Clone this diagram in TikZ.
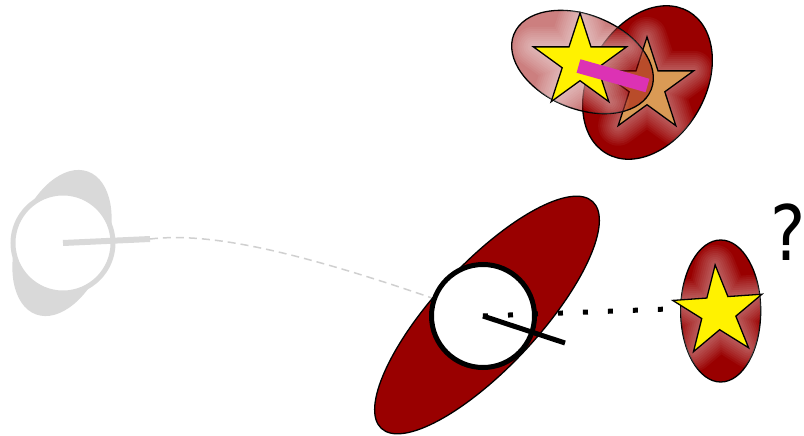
\documentclass[tikz,border=0pt]{standalone}
\usepackage{fontspec}
\setmainfont{DejaVu Sans}
\usetikzlibrary{shapes.geometric}
\definecolor{dred}{HTML}{990000}
\definecolor{ghost}{HTML}{D9D9D9}
\definecolor{dashgrey}{HTML}{D0D0D0}
\definecolor{starorange}{HTML}{DA9A55}
\definecolor{barmag}{HTML}{DC32B4}
\tikzset{
  pics/starp/.style={code={\path[pic actions] plot[samples at={0,...,9}] ({-90+36*\x}:{#1*(0.691+0.309*cos(180*\x))}) -- cycle;}},
  blob/.style={ellipse, draw=black, line width=1.3pt, inner sep=0pt, fill=dred},
  glow/.style={draw=white, line join=round},
  starline/.style={draw=black, line width=1.3pt, line join=miter},
}
\begin{document}
\begin{tikzpicture}[x=1pt,y=-1pt]
\useasboundingbox (0,0) rectangle (804,436);
% ghost on the left
\node[ellipse, fill=ghost, inner sep=0pt, minimum width=152pt, minimum height=90pt, rotate=70] (gblob) at (62,243) {};
\node[circle, draw=ghost, line width=5pt, fill=white, inner sep=0pt, minimum size=100pt] (gc) at (63,243) {};
\coordinate (gl) at (150,239);
\draw[ghost, line width=6pt] (gc.center) -- (gl);
% black circle centre
\coordinate (bcc) at (483,316);
\draw[dashgrey, line width=1.5pt, dash pattern=on 8pt off 5pt] (gl) .. controls (210,232) and (300,250) .. (bcc);
% big ellipse
\node[blob, minimum width=310pt, minimum height=104pt, rotate=47] (be) at (487,315) {};
\node[circle, draw=black, line width=5pt, fill=white, inner sep=0pt, minimum size=103pt] (bc) at (bcc) {};
\coordinate (dotend) at (668,309);
\draw[line width=5pt, dash pattern=on 5pt off 20pt] (bc.center) -- (dotend);
\coordinate (bl) at (565,343);
\draw[line width=5pt] (bc.center) -- (bl);
% right ellipse with star
\node[blob, minimum width=80pt, minimum height=142pt] (re) at (720.7,311) {};
\begin{scope}
  \clip (720.7,311) ellipse [x radius=40, y radius=71];
  \foreach \w in {40,36,...,4}
    \pic[glow, line width=\w pt, draw opacity=0.045, rotate=4] at (718.4,311.8) {starp=47};
\end{scope}
\pic[starline, fill=yellow, rotate=4] (rs) at (718.4,311.8) {starp=47};
\node[anchor=base west, inner sep=0pt, font=\fontsize{76.4}{80}\selectfont] (q) at (770.6,260.7) {\makebox[33pt][l]{\scalebox{0.87}[1]{?}}};
% top group
\node[blob, minimum width=164pt, minimum height=116pt, rotate=60] (te) at (647.5,82.5) {};
\begin{scope}
  \clip[rotate around={60:(647.5,82.5)}] (647.5,82.5) ellipse [x radius=82, y radius=58];
  \foreach \w in {40,36,...,4}
    \pic[glow, line width=\w pt, draw opacity=0.045] at (647,86) {starp=49};
\end{scope}
\pic[starline, fill=starorange] (os) at (647,86) {starp=49};
\node[blob, fill opacity=0.5, minimum width=148pt, minimum height=94pt, rotate=-22] (pe) at (582.5,62) {};
\begin{scope}
  \clip[rotate around={-22:(582.5,62)}] (582.5,62) ellipse [x radius=74, y radius=47];
  \foreach \w in {40,36,...,4}
    \pic[glow, line width=\w pt, draw opacity=0.055] at (580,62) {starp=49};
\end{scope}
\pic[starline, fill=yellow] (ys) at (580,62) {starp=49};
\coordinate (b1) at (578.5,66);
\coordinate (b2) at (647.5,85.5);
\draw[barmag, line width=14pt] (b1) -- (b2);
\end{tikzpicture}
\end{document}
